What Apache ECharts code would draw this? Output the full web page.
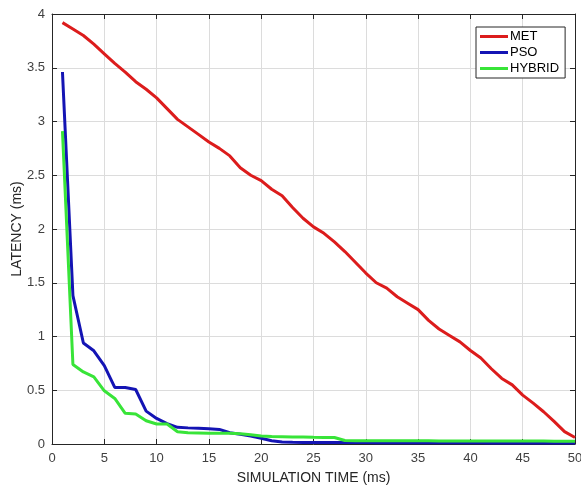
<!DOCTYPE html>
<html><head><meta charset="utf-8">
<script src="https://cdn.jsdelivr.net/npm/echarts@6/dist/echarts.min.js"></script>
<style>html,body{margin:0;padding:0;background:#fff}#c{width:581px;height:490px}</style>
</head><body><div id="c"></div>
<script>
var xValues = [1,2,3,4,5,6,7,8,9,10,11,12,13,14,15,16,17,18,19,20,21,22,23,24,25,26,27,28,29,30,31,32,33,34,35,36,37,38,39,40,41,42,43,44,45,46,47,48,49,50];
var met = [3.92,3.86,3.80,3.72,3.63,3.54,3.46,3.37,3.30,3.22,3.12,3.02,2.95,2.88,2.81,2.75,2.68,2.57,2.50,2.45,2.37,2.31,2.20,2.10,2.02,1.96,1.88,1.79,1.69,1.59,1.50,1.45,1.37,1.31,1.25,1.15,1.07,1.01,0.95,0.87,0.80,0.70,0.61,0.55,0.455,0.38,0.30,0.21,0.115,0.06];
var pso = [3.46,1.38,0.94,0.867,0.73,0.526,0.525,0.507,0.306,0.238,0.19,0.155,0.15,0.146,0.142,0.136,0.105,0.09,0.074,0.053,0.03,0.018,0.016,0.015,0.015,0.014,0.014,0.013,0.013,0.013,0.012,0.012,0.012,0.012,0.012,0.011,0.011,0.011,0.011,0.011,0.011,0.01,0.01,0.01,0.01,0.01,0.01,0.01,0.01,0.01];
var hybrid = [2.91,0.74,0.67,0.625,0.495,0.424,0.285,0.28,0.216,0.186,0.186,0.114,0.105,0.103,0.1,0.1,0.1,0.095,0.085,0.075,0.07,0.068,0.066,0.064,0.062,0.061,0.06,0.032,0.031,0.031,0.03,0.03,0.03,0.03,0.03,0.03,0.029,0.029,0.029,0.029,0.028,0.028,0.028,0.028,0.027,0.027,0.027,0.026,0.026,0.025];
var xTicks = [0,5,10,15,20,25,30,35,40,45,50];
var yTicks = [0,0.5,1,1.5,2,2.5,3,3.5,4];

function pairs(v){ return xValues.map(function(x,i){ return [x, v[i]]; }); }
var font = '"Liberation Sans", Arial, sans-serif';
var axisCol = '#262626';
var chart = echarts.init(document.getElementById('c'), null, {renderer:'canvas'});
var base = {
  type:'value', axisLine:{show:true, onZero:false, lineStyle:{color:axisCol, width:1}},
  axisTick:{show:true, inside:true, length:5, lineStyle:{color:axisCol}},
  splitLine:{show:false}
};
chart.setOption({
  animation:false,
  backgroundColor:'#fff',
  grid:{left:52, right:6, top:14, bottom:46, containLabel:false, outerBoundsMode:'none'},
  legend:{
    orient:'vertical', left:476, top:27, width:86,
    data:['MET','PSO','HYBRID'],
    icon:'rect', itemWidth:28, itemHeight:3, itemGap:3,
    borderColor:'#262626', borderWidth:1, padding:[3,6,3,4],
    backgroundColor:'#fff',
    textStyle:{fontFamily:font, fontSize:13, color:'#000', padding:[0,0,0,-3]}
  },
  graphic:[{
    type:'text', x:17, y:229, rotation:Math.PI/2,
    style:{text:'LATENCY (ms)', font:'14px "Liberation Sans", Arial, sans-serif', fill:'#262626', textAlign:'center', textVerticalAlign:'middle'}
  }],
  xAxis:[
    Object.assign({}, base, {min:0, max:50, interval:5, position:'bottom',
      axisLabel:{show:true, color:'#404040', fontFamily:font, fontSize:13, margin:8, formatter:function(v){return xTicks.indexOf(v)>=0?String(v):'';}},
      splitLine:{show:true, lineStyle:{color:'#dcdcdc', width:1}},
      name:'SIMULATION TIME (ms)', nameLocation:'middle', nameGap:27,
      nameTextStyle:{fontFamily:font, fontSize:14, color:'#262626'}}),
    Object.assign({}, base, {min:0, max:50, interval:5, position:'top', axisLabel:{show:false}})
  ],
  yAxis:[
    Object.assign({}, base, {min:0, max:4, interval:0.5, position:'left',
      axisLabel:{show:true, color:'#404040', fontFamily:font, fontSize:13, margin:7, formatter:function(v){return yTicks.indexOf(v)>=0?String(v):'';}},
      splitLine:{show:true, lineStyle:{color:'#dcdcdc', width:1}}}),
    Object.assign({}, base, {min:0, max:4, interval:0.5, position:'right', axisLabel:{show:false}})
  ],
  series:[
    {name:'MET', type:'line', data:pairs(met), showSymbol:false, symbol:'none', lineStyle:{color:'#dc1c1c', width:3}, itemStyle:{color:'#dc1c1c'}},
    {name:'PSO', type:'line', data:pairs(pso), showSymbol:false, symbol:'none', lineStyle:{color:'#1414b4', width:3}, itemStyle:{color:'#1414b4'}},
    {name:'HYBRID', type:'line', data:pairs(hybrid), showSymbol:false, symbol:'none', lineStyle:{color:'#38e438', width:3}, itemStyle:{color:'#38e438'}}
  ]
});
</script></body></html>
